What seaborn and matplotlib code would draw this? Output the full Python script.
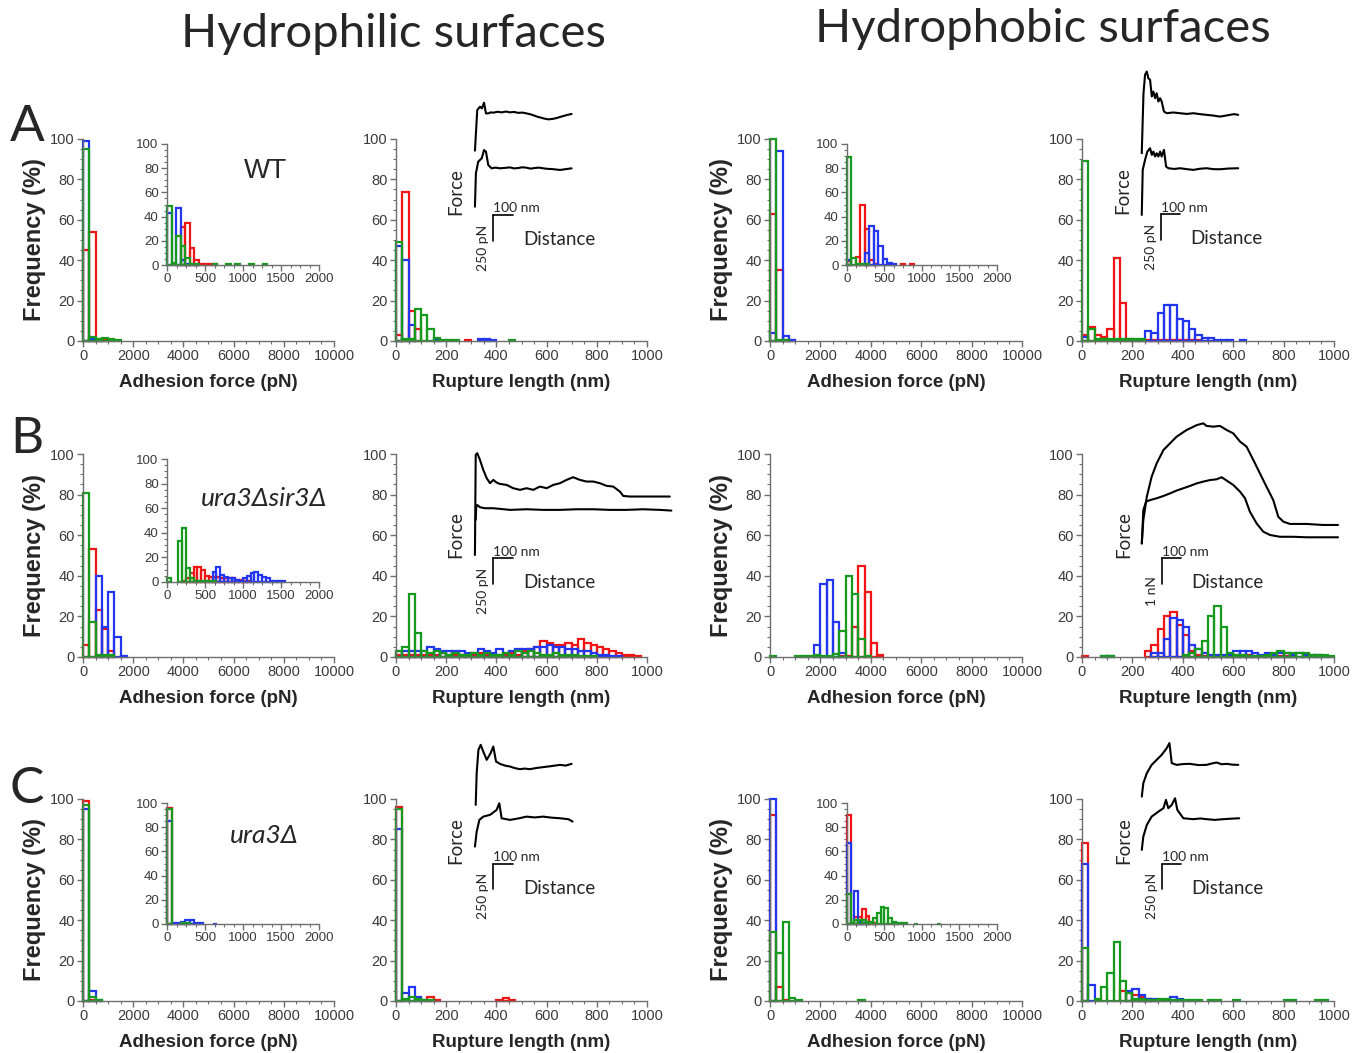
import numpy as np
import matplotlib
matplotlib.use("Agg")
import matplotlib.pyplot as plt
from matplotlib.ticker import MultipleLocator, AutoMinorLocator
import seaborn as sns

# Figure size in pixels (dpi 100)
W, H = 1366, 1053

RED, BLUE, GREEN = "#f01414", "#2235f0", "#159a1e"
AX_COL = "#6e6e6e"
TXT_COL = "#3a3a3a"
LATO = ["Lato", "DejaVu Sans"]

# ---------------- histogram data (frequency %, bins start at 0) ----------------
ADH_BIN = 250   # pN, main adhesion histograms
RUP_BIN = 25    # nm, rupture length histograms

# Row A - WT
A1_RED = [45, 54, 1, 0.5]
A1_BLUE = [99, 1, 0.3]
A1_GREEN = [95, 2, 1, 1.5, 1, 0.5]
A1I_BIN = 60
A1I_RED = [0, 0, 0, 31, 35, 14, 4, 1, 0.5, 0.5, 0.5]
A1I_BLUE = [43, 0, 47, 4, 1, 0.5, 0.5]
A1I_GREEN = [49, 2, 24, 16, 6, 1, 0.5, 0, 0, 0, 0.5, 0, 0, 0.5, 0, 0.5, 0, 0, 0.5, 0, 0, 0.5]
A2_RED = [3, 74, 15, 6, 0, 0, 0, 0, 0, 0, 0, 0.5]
A2_BLUE = [47, 40, 8, 0, 0, 0, 1, 0, 0, 0, 0, 0, 0, 1, 1, 0.5]
A2_GREEN = [49, 1, 1, 16, 13, 6, 1.5, 0.5, 0.5, 0.5, 0, 0, 0, 0, 0, 0, 0, 0, 0.5]
A3_RED = [63, 35, 0.5, 0.5]
A3_BLUE = [4, 94, 2.5, 0.3]
A3_GREEN = [100, 0.5, 0.3]
A3I_BIN = 60
A3I_RED = [3, 0, 7, 50, 30, 4, 1, 0, 0, 0, 0, 0, 0.5, 0, 0.5]
A3I_BLUE = [4, 0, 0, 0, 10, 32, 28, 16, 5, 2, 1]
A3I_GREEN = [89, 6, 1, 1, 0.5]
A4_RED = [3, 7, 3, 2, 6, 41, 19, 1, 0.5, 0.5, 0.5, 0.5, 0.5, 0.5, 0.5, 0.5, 0.5, 0.5, 0.5]
A4_BLUE = [2, 0, 0, 0, 0, 0, 0, 0, 0, 0, 5, 4, 14, 18, 18, 11, 10, 6, 3, 1.5, 1.5, 0.5, 0.5, 0.5, 0, 0.3]
A4_GREEN = [89, 6, 1, 1, 1, 1, 1, 1, 1, 1]

# Row B - ura3Δsir3Δ
B1_RED = [6, 53, 23, 14, 3]
B1_BLUE = [0, 0, 40, 15, 32, 10, 0.5]
B1_GREEN = [81, 17, 1, 1, 1]
B1I_BIN = 50
B1I_RED = [0, 0, 0, 0, 1, 3, 7, 12, 12, 10, 5, 4, 4, 4, 3, 3, 3, 3, 2, 2, 1, 0.5]
B1I_BLUE = [0, 0, 0, 0, 0, 0, 0, 0, 0, 0, 0, 0, 8, 12, 6, 4, 3, 3, 2, 1,
            3, 5, 7, 8, 6, 4, 3, 1, 1, 0.5, 0.5]
B1I_GREEN = [3, 0, 0, 33, 44, 11, 3, 1, 1, 1, 0.5, 0.5, 0.5]
B2_RED = [1, 1, 1, 1, 1, 1, 1, 2, 1, 1, 1, 1, 1, 2, 1, 1, 1, 1, 2, 1,
          3, 4, 5, 8, 7, 6, 6, 7, 6, 9, 7, 6, 5, 4, 3, 2, 1, 1, 0.5]
B2_BLUE = [3, 3, 3, 3, 3, 5, 4, 3, 3, 3, 3, 2, 2, 4, 3, 2, 4, 2, 3, 4,
           4, 4, 5, 5, 6, 5, 5, 4, 4, 3, 3, 2, 1, 1, 0.5, 0.5]
B2_GREEN = [3, 5, 31, 12, 3, 2, 3, 2, 1, 2, 1, 1, 2, 1, 2, 1, 1, 2, 1, 3,
            2, 3, 2, 1, 1, 2, 1, 1, 1, 0.5, 0.5, 0.5]
B3_RED = [0, 0, 0, 0, 0, 0, 0, 0, 0, 0, 0, 0.5, 0.5, 15, 45, 32, 7, 1]
B3_BLUE = [0, 0, 0, 0, 0, 0, 0, 6, 36, 38, 17, 2]
B3_GREEN = [0.5, 0, 0, 0, 0.5, 0.5, 0.5, 1, 0.5, 0.5, 1.5, 13, 40, 31, 9, 0.5]
B4_RED = [0.5, 0, 0, 0, 0, 0, 0, 0, 0, 0, 3, 6, 14, 20, 22, 16, 11, 3, 1, 0.5,
          0.5, 0.5, 0.5, 0.5, 1, 1, 1, 0.5, 0.5, 0.5, 0.5, 0.5, 0.5]
B4_BLUE = [0, 0, 0, 0.5, 0.5, 0, 0, 0, 0, 0, 0, 2, 2, 9, 19, 18, 15, 6, 4, 2,
           1, 1, 1, 1, 3, 3, 3, 2, 1, 2, 1, 2, 2, 1, 2, 1, 1, 1, 0.5]
B4_GREEN = [0, 0, 0, 0.5, 0.5, 0, 0, 0, 0, 0, 0, 0, 0, 0, 0, 0, 1, 2, 4, 8,
            20, 25, 15, 2, 1, 1, 0.5, 0.5, 0.5, 1, 2, 3, 2, 2, 2, 2, 1, 1, 1, 0.5]

# Row C - ura3Δ
C1_RED = [99, 0.5]
C1_BLUE = [95, 5, 0.5]
C1_GREEN = [97, 2, 0.3]
C1I_BIN = 60
C1I_RED = [96]
C1I_BLUE = [85, 1, 1, 2, 3, 3, 1, 0.5, 0, 0, 0.3]
C1I_GREEN = [95, 0, 0, 1, 0.5]
C2_RED = [96, 0, 0, 0, 0, 2, 0.5, 0, 0, 0, 0, 0, 0, 0, 0, 0, 0.5, 1.5, 0.5]
C2_BLUE = [85, 4, 7, 2, 0.5]
C2_GREEN = [95, 1, 2, 1, 0.5, 0.3]
C3_RED = [92, 7, 0.3]
C3_BLUE = [100, 0]
C3_GREEN = [34, 24, 39, 1.5, 0.5, 0, 0, 0, 0, 0, 0, 0, 0, 0, 0.3]
C3I_BIN = 50
C3I_RED = [90, 0, 6, 6, 12, 7, 2, 0.5]
C3I_BLUE = [67, 0, 27, 2, 1, 0.5]
C3I_GREEN = [25, 1, 3, 3, 3, 2, 2, 5, 9, 14, 13, 5, 2, 1, 1, 0.5, 0, 0, 0.3,
             0, 0, 0, 0, 0, 0.3]
C4_RED = [78, 0, 0, 0, 0, 0, 5, 4, 3, 2, 1, 0.5]
C4_BLUE = [68, 8, 0, 0, 0, 0, 0, 5, 6, 3, 1, 1, 0, 0, 2, 1]
C4_GREEN = [26, 0, 1, 7, 14, 29, 10, 4, 1, 1, 0.5, 0.5, 1, 1, 0.5, 0.5, 0.5, 0.5,
            0.5, 0, 0.5, 0.5, 0, 0, 0.5, 0, 0, 0, 0, 0, 0, 0, 0.5, 0.5, 0, 0, 0, 0.5, 0.5]

# ---------------- force-distance curves (nm, pN; B4 in nN) ----------------
A2_TOP_NM = [-95, -83, -69, -59, -48, -38, -26, -13, 0, 22, 43, 65, 86, 108, 129, 150, 172, 190,
             207, 224, 241, 262, 284, 306, 328, 345, 362, 384, 405]
A2_TOP_PN = [877, 1273, 1305, 1289, 1344, 1240, 1240, 1250, 1247, 1256, 1250, 1258, 1250, 1254,
             1245, 1248, 1240, 1232, 1222, 1210, 1201, 1190, 1182, 1186, 1195, 1205, 1214, 1226, 1234]
A2_BOT_NM = [-95, -90, -78, -60, -48, -38, -26, -9, 12, 34, 60, 86, 108, 129, 150, 172, 193, 215,
             236, 258, 280, 301, 323, 345, 375, 405]
A2_BOT_PN = [331, 656, 770, 802, 883, 867, 737, 705, 712, 705, 709, 714, 704, 708, 715, 711, 702,
             708, 712, 705, 700, 698, 694, 689, 697, 705]

A4_TOP_NM = [-98, -89, -81, -72, -64, -55, -46, -38, -29, -21, -12, -3, 5, 17, 31, 65, 100, 135,
             169, 203, 237, 272, 306, 332, 358, 380, 401]
A4_TOP_PN = [845, 1430, 1609, 1641, 1576, 1560, 1398, 1446, 1381, 1430, 1349, 1381, 1349, 1251,
             1235, 1242, 1235, 1228, 1235, 1226, 1219, 1212, 1202, 1210, 1219, 1226, 1219]
A4_BOT_NM = [-98, -93, -81, -69, -55, -46, -38, -29, -21, -12, -3, 5, 17, 28, 40, 70, 100, 135,
             169, 203, 237, 272, 306, 350, 401]
A4_BOT_PN = [244, 683, 780, 861, 894, 829, 861, 813, 845, 813, 861, 813, 878, 715, 699, 692, 699,
             690, 683, 694, 699, 690, 689, 696, 699]

B2_TOP_NM = [-95, -91, -83, -69, -52, -34, -17, 0, 17, 34, 69, 103, 138, 172, 207, 241, 276, 310,
             345, 379, 413, 448, 482, 517, 551, 586, 620, 655, 672, 706, 775, 861, 913]
B2_TOP_PN = [283, 1258, 1274, 1209, 1112, 1030, 982, 1014, 988, 975, 965, 933, 917, 933, 917, 949,
             933, 965, 982, 1014, 1040, 1014, 998, 998, 982, 956, 949, 900, 858, 852, 852, 852, 852]
B2_BOT_NM = [-91, -88, -83, -69, -43, 0, 86, 172, 258, 345, 431, 517, 603, 689, 775, 861, 921]
B2_BOT_PN = [624, 760, 770, 748, 738, 738, 722, 728, 722, 722, 728, 728, 722, 722, 728, 722, 715]

B4_TOP_NM = [-103, -95, -77, -52, -26, 9, 43, 77, 129, 181, 215, 232, 267, 301, 336, 370, 405,
             439, 474, 508, 542, 577, 603, 629, 663, 749, 835, 912]
B4_TOP_NN = [1.58, 2.49, 3.40, 4.18, 4.70, 5.22, 5.48, 5.74, 6.00, 6.19, 6.26, 6.16, 6.13, 6.16,
             6.00, 5.87, 5.55, 5.35, 4.83, 4.31, 3.79, 3.27, 2.62, 2.43, 2.34, 2.34, 2.30, 2.30]
B4_BOT_NM = [-103, -95, -81, -60, -26, 9, 43, 77, 112, 146, 181, 215, 250, 284, 310, 336, 370,
             405, 431, 456, 491, 525, 560, 611, 680, 749, 912]
B4_BOT_NN = [1.58, 2.88, 3.21, 3.27, 3.34, 3.43, 3.53, 3.64, 3.73, 3.82, 3.92, 3.99, 4.05, 4.08,
             4.16, 4.03, 3.86, 3.60, 3.34, 2.82, 2.36, 2.04, 1.91, 1.84, 1.84, 1.82, 1.82]

C2_TOP_NM = [-91, -86, -77, -65, -52, -34, -14, 0, 14, 34, 60, 86, 112, 138, 163, 189, 224, 258,
             300, 345, 375, 405]
C2_TOP_PN = [822, 1131, 1358, 1407, 1342, 1261, 1326, 1391, 1245, 1222, 1205, 1196, 1180, 1170,
             1176, 1170, 1182, 1190, 1200, 1212, 1205, 1222]
C2_BOT_NM = [-95, -86, -72, -52, -17, 17, 31, 43, 64, 86, 129, 172, 215, 258, 300, 345, 388, 410]
C2_BOT_PN = [416, 562, 676, 708, 725, 773, 838, 692, 684, 676, 690, 708, 700, 708, 698, 692, 683, 660]

C4_TOP_NM = [-103, -95, -77, -52, -26, 0, 26, 40, 52, 77, 112, 146, 190, 232, 258, 284, 310, 336,
             366, 396]
C4_TOP_PN = [903, 1034, 1131, 1212, 1261, 1310, 1375, 1424, 1229, 1212, 1220, 1222, 1210, 1212,
             1225, 1235, 1218, 1222, 1214, 1212]
C4_BOT_NM = [-103, -95, -77, -52, -17, 9, 22, 34, 52, 69, 81, 112, 163, 200, 232, 275, 318, 360, 401]
C4_BOT_PN = [384, 514, 627, 708, 757, 790, 871, 790, 822, 887, 773, 692, 683, 690, 683, 676, 683,
             688, 692]


sns.set_style("ticks")
plt.rcParams["font.family"] = ["Liberation Sans", "DejaVu Sans"]

fig = plt.figure(figsize=(W / 100, H / 100), dpi=100)


def px_axes(x0, x1, y0, y1):
    return fig.add_axes([x0 / W, 1 - y1 / H, (x1 - x0) / W, (y1 - y0) / H])


def draw_hist(ax, width, series):
    for vals, col in series:
        vals = np.asarray(vals, dtype=float)
        n = len(vals)
        centers = (np.arange(n) + 0.5) * width
        before = len(ax.patches)
        sns.histplot(x=centers, weights=vals, binwidth=width, binrange=(0, n * width),
                     element="bars", fill=False, color=col, linewidth=1.6,
                     clip_on=False, ax=ax)
        # empty bins leave no mark
        for p in ax.patches[before:]:
            if p.get_height() <= 0:
                p.set_visible(False)


def style_axes(ax, xmax, xmajor, xlabel=None, ylabel=None, inset=False):
    ax.set_xlim(0, xmax)
    ax.set_ylim(0, 100)
    ax.xaxis.set_major_locator(MultipleLocator(xmajor))
    ax.xaxis.set_minor_locator(AutoMinorLocator(4))
    ax.yaxis.set_major_locator(MultipleLocator(20))
    ax.yaxis.set_minor_locator(AutoMinorLocator(4))
    ax.set_facecolor("none")
    sns.despine(ax=ax)
    for s in ["left", "bottom"]:
        ax.spines[s].set_color(AX_COL)
        ax.spines[s].set_linewidth(1.0)
    ax.tick_params(which="major", length=4, width=1, color=AX_COL, labelcolor=TXT_COL,
                   labelsize=9.5 if inset else 10.5, pad=2)
    ax.tick_params(which="minor", length=2, width=0.8, color=AX_COL)
    ax.set_xlabel(xlabel or "", fontsize=13.5, fontweight="bold", labelpad=8)
    ax.set_ylabel(ylabel or "", fontsize=17, fontweight="bold", labelpad=3)


SX = (58 / 3) / 100  # px per nm for the scale bars


def force_inset(ox, oy, curves, bar_val, bar_text):
    sy = (77 / 3) / bar_val
    left, right, top, bottom = ox - 60, ox + 200, oy - 190, oy + 35
    ax = px_axes(left, right, top, bottom)
    ax.set_zorder(5)
    ax.set_xlim((left - ox) / SX, (right - ox) / SX)
    ax.set_ylim((oy - bottom) / sy, (oy - top) / sy)
    ax.axis("off")
    for xs, ys in curves:
        sns.lineplot(x=xs, y=ys, sort=False, estimator=None, color="black",
                     linewidth=1.5, ax=ax)
    ax.plot([0, 0], [0, bar_val], color="black", lw=1.2)
    ax.plot([0, 100], [bar_val, bar_val], color="black", lw=1.2)

    def at(dx, dy):
        return dx / SX, -dy / sy

    ax.text(*at(0, -28.5), "100 nm", ha="left", va="baseline", fontsize=10, family=LATO)
    ax.text(*at(-10, 7), bar_text, rotation=90, ha="center", va="center", fontsize=10,
            family=LATO)
    ax.text(*at(-38, -49), "Force", rotation=90, ha="center", va="center", fontsize=13.5,
            family=LATO)
    ax.text(*at(66, -1), "Distance", ha="center", va="center", fontsize=13.5, family=LATO)


ROWS = {"A": (139, 341, 144, 265), "B": (454, 657, 459, 582), "C": (799, 1001, 803, 924)}
ADH_X = {"phil": (83, 334), "phob": (770, 1022)}
RUP_X = {"phil": (396, 647), "phob": (1082, 1334)}
INS_X = {"phil": (167, 319), "phob": (847, 997)}

main_data = {
    ("A", "phil"): (A1_RED, A1_BLUE, A1_GREEN, A2_RED, A2_BLUE, A2_GREEN),
    ("A", "phob"): (A3_RED, A3_BLUE, A3_GREEN, A4_RED, A4_BLUE, A4_GREEN),
    ("B", "phil"): (B1_RED, B1_BLUE, B1_GREEN, B2_RED, B2_BLUE, B2_GREEN),
    ("B", "phob"): (B3_RED, B3_BLUE, B3_GREEN, B4_RED, B4_BLUE, B4_GREEN),
    ("C", "phil"): (C1_RED, C1_BLUE, C1_GREEN, C2_RED, C2_BLUE, C2_GREEN),
    ("C", "phob"): (C3_RED, C3_BLUE, C3_GREEN, C4_RED, C4_BLUE, C4_GREEN),
}

for (row, side), (ar, ab, ag, rr, rb, rg) in main_data.items():
    y0, y1, _, _ = ROWS[row]
    ax = px_axes(*ADH_X[side], y0, y1)
    draw_hist(ax, ADH_BIN, [(ar, RED), (ab, BLUE), (ag, GREEN)])
    style_axes(ax, 10000, 2000, "Adhesion force (pN)", "Frequency (%)")
    ax = px_axes(*RUP_X[side], y0, y1)
    draw_hist(ax, RUP_BIN, [(rr, RED), (rb, BLUE), (rg, GREEN)])
    style_axes(ax, 1000, 200, "Rupture length (nm)")

inset_data = {
    ("A", "phil"): (A1I_BIN, A1I_RED, A1I_BLUE, A1I_GREEN),
    ("A", "phob"): (A3I_BIN, A3I_RED, A3I_BLUE, A3I_GREEN),
    ("B", "phil"): (B1I_BIN, B1I_RED, B1I_BLUE, B1I_GREEN),
    ("C", "phil"): (C1I_BIN, C1I_RED, C1I_BLUE, C1I_GREEN),
    ("C", "phob"): (C3I_BIN, C3I_RED, C3I_BLUE, C3I_GREEN),
}
for (row, side), (w, r, b, g) in inset_data.items():
    _, _, y0, y1 = ROWS[row]
    ax = px_axes(*INS_X[side], y0, y1)
    draw_hist(ax, w, [(r, RED), (b, BLUE), (g, GREEN)])
    style_axes(ax, 2000, 500, inset=True)

# force-distance insets
force_inset(493.3, 240.7, [(A2_TOP_NM, A2_TOP_PN), (A2_BOT_NM, A2_BOT_PN)], 250, "250 pN")
force_inset(1160.7, 240.0, [(A4_TOP_NM, A4_TOP_PN), (A4_BOT_NM, A4_BOT_PN)], 250, "250 pN")
force_inset(493.3, 584.0, [(B2_TOP_NM, B2_TOP_PN), (B2_BOT_NM, B2_BOT_PN)], 250, "250 pN")
force_inset(1161.7, 584.0, [(B4_TOP_NM, B4_TOP_NN), (B4_BOT_NM, B4_BOT_NN)], 1.0, "1 nN")
force_inset(493.3, 889.3, [(C2_TOP_NM, C2_TOP_PN), (C2_BOT_NM, C2_BOT_PN)], 250, "250 pN")
force_inset(1161.7, 889.3, [(C4_TOP_NM, C4_TOP_PN), (C4_BOT_NM, C4_BOT_PN)], 250, "250 pN")

# titles, panel letters, strain labels
fig.text(393 / W, 1 - 47 / H, "Hydrophilic surfaces", ha="center", va="baseline",
         fontsize=34, family=LATO)
fig.text(1043 / W, 1 - 42 / H, "Hydrophobic surfaces", ha="center", va="baseline",
         fontsize=34, family=LATO)
for letter, yb in [("A", 141), ("B", 453), ("C", 803)]:
    fig.text(27 / W, 1 - yb / H, letter, ha="center", va="baseline", fontsize=37, family=LATO)
fig.text(265 / W, 1 - 178 / H, "WT", ha="center", va="baseline", fontsize=20)
fig.text(264 / W, 1 - 506 / H, "ura3Δsir3Δ", ha="center", va="baseline", fontsize=19,
         style="italic", family=LATO)
fig.text(264 / W, 1 - 843 / H, "ura3Δ", ha="center", va="baseline", fontsize=19,
         style="italic", family=LATO)

fig.savefig("out.png", dpi=100)
